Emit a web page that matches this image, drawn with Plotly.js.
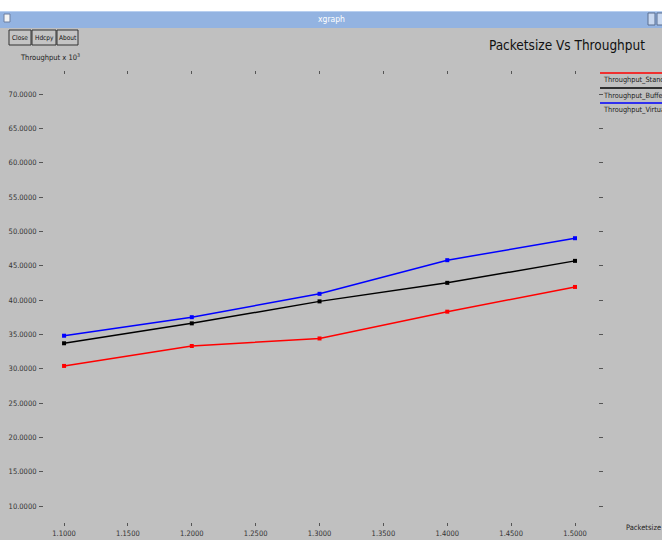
<!DOCTYPE html>
<html>
<head>
<meta charset="utf-8">
<script src="https://cdn.plot.ly/plotly-3.0.1.min.js"></script>
<style>html,body{margin:0;padding:0;background:#c0c0c0;}#chart{width:662px;height:540px;}</style>
</head>
<body>
<div id="chart"></div>
<script>
// ---- data ----
const packetSize = [1.1, 1.2, 1.3, 1.4, 1.5];
const throughputStandard = [30.4, 33.3, 34.4, 38.3, 41.9];
const throughputBuffer = [33.7, 36.6, 39.8, 42.5, 45.7];
const throughputVirtual = [34.8, 37.5, 40.9, 45.8, 49.0];
const seriesNames = ["Throughput_Standard", "Throughput_Buffer", "Throughput_Virtual"];
const seriesColors = ["#ff0000", "#000000", "#0000ff"];
const xTickVals = [1.10, 1.15, 1.20, 1.25, 1.30, 1.35, 1.40, 1.45, 1.50];
const xTickText = ["1.1000", "1.1500", "1.2000", "1.2500", "1.3000", "1.3500", "1.4000", "1.4500", "1.5000"];
const yTickVals = [10, 15, 20, 25, 30, 35, 40, 45, 50, 55, 60, 65, 70];
const yTickText = ["10.0000", "15.0000", "20.0000", "25.0000", "30.0000", "35.0000", "40.0000", "45.0000", "50.0000", "55.0000", "60.0000", "65.0000", "70.0000"];

const FONT = "'Liberation Sans Narrow', 'DejaVu Sans Condensed', 'Arial Narrow', sans-serif";
const W = 662, H = 540;
const M = {l: 44, r: 64, t: 75, b: 18};
const PW = W - M.l - M.r, PH = H - M.t - M.b;
const px = x => (x - M.l) / PW;
const py = y => (H - M.b - y) / PH;

const allY = [throughputStandard, throughputBuffer, throughputVirtual];
const traces = allY.map((ys, i) => ({
  x: packetSize, y: ys, type: 'scatter', mode: 'lines+markers',
  name: seriesNames[i], showlegend: false,
  line: {color: seriesColors[i], width: 1.5},
  marker: {color: seriesColors[i], size: 4, symbol: 'square'}
}));

const shapes = [];
const annotations = [];
function rect(x0, y0, x1, y1, fill, line) {
  shapes.push({type: 'rect', xref: 'paper', yref: 'paper', x0: px(x0), x1: px(x1), y0: py(y1), y1: py(y0),
    fillcolor: fill, line: {color: line || fill, width: line ? 1 : 0}, layer: 'above'});
}
function hline(x0, x1, y, color, w) {
  shapes.push({type: 'line', xref: 'paper', yref: 'paper', x0: px(x0), x1: px(x1), y0: py(y), y1: py(y),
    line: {color: color, width: w || 1}, layer: 'above'});
}
function text(t, x, y, size, color, xanchor) {
  annotations.push({text: t, xref: 'paper', yref: 'paper', x: px(x), y: py(y), showarrow: false,
    xanchor: xanchor || 'left', yanchor: 'middle', font: {family: FONT, size: size, color: color || '#222'}});
}

// window chrome
rect(0, 0, 662, 11, '#ffffff');
rect(0, 11, 662, 28, '#93b3e1');
hline(0, 662, 11.5, '#b8cff0', 1);
rect(4, 14, 10, 22, '#f4f4f4', '#6c7fa0');
rect(648, 13, 655, 25, '#c8d8f0', '#5a6e90');
rect(657, 13, 664, 25, '#c8d8f0', '#5a6e90');
text('xgraph', 331, 19.5, 8.5, '#ffffff', 'center');

// buttons
const buttons = [["Close", 9, 31], ["Hdcpy", 32, 56], ["About", 57, 78]];
buttons.forEach(b => {
  rect(b[1], 30, b[2], 45, '#c4c4c4', '#333333');
  text(b[0], (b[1] + b[2]) / 2, 37.5, 6.5, '#111', 'center');
});

// axis captions
text('Throughput x 10<sup>3</sup>', 18, 57, 7.5, '#222');
text('Packetsize x 10<sup>3</sup>', 624, 527, 7.5, '#222');

// legend
const legY = [73, 88, 103];
seriesNames.forEach((n, i) => {
  hline(600, 662, legY[i], seriesColors[i], 1.5);
  text(n, 601, legY[i] + 7, 7.3, '#222');
});

const axisCommon = {
  showgrid: false, zeroline: false, showline: true, linecolor: '#c0c0c0',
  ticks: 'outside', tickcolor: '#555', mirror: 'ticks',
  tickfont: {family: FONT, size: 7.5, color: '#333'}, fixedrange: true
};

const layout = {
  width: W, height: H,
  margin: M,
  paper_bgcolor: '#c0c0c0', plot_bgcolor: '#c0c0c0',
  title: {text: 'Packetsize Vs Throughput', x: 645 / W, xanchor: 'right', xref: 'container',
          y: 1 - 45 / H, yanchor: 'middle', yref: 'container',
          font: {family: FONT, size: 13.5, color: '#111'}},
  xaxis: Object.assign({}, axisCommon, {range: [1.0843, 1.518], tickvals: xTickVals, ticktext: xTickText, ticklen: 3, ticklabelstandoff: 1}),
  yaxis: Object.assign({}, axisCommon, {range: [7.67, 72.77], tickvals: yTickVals, ticktext: yTickText, ticklen: 4, ticklabelstandoff: 1}),
  shapes: shapes, annotations: annotations, showlegend: false
};

Plotly.newPlot('chart', traces, layout, {displayModeBar: false, staticPlot: true});
</script>
</body>
</html>
